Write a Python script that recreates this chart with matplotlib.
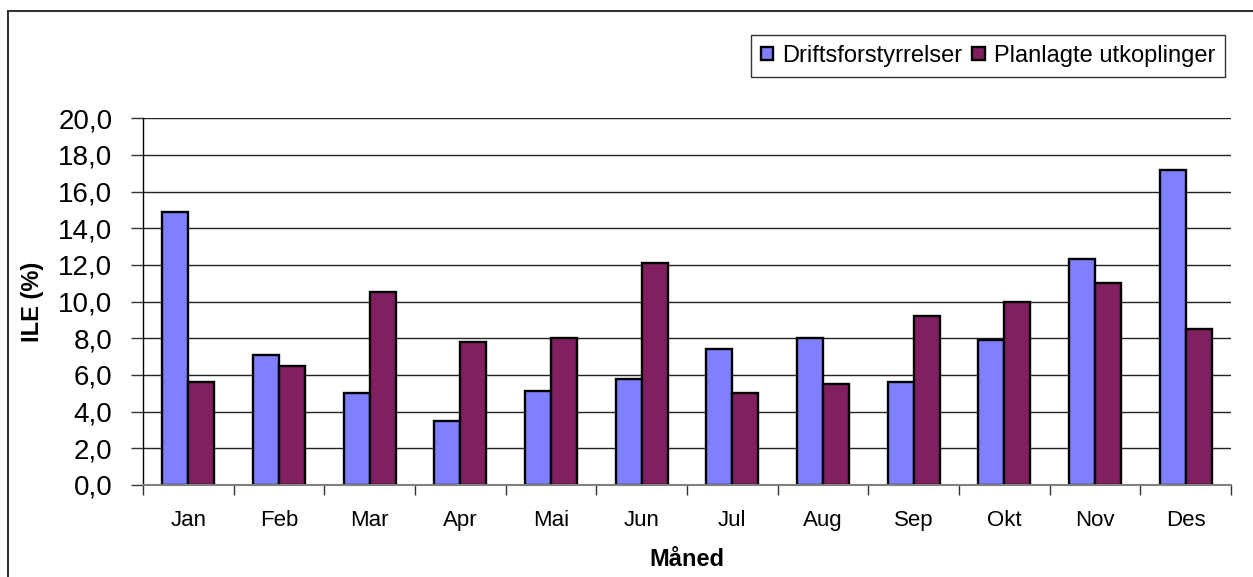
import matplotlib
matplotlib.use("Agg")
import matplotlib.pyplot as plt
import numpy as np
from matplotlib.patches import Rectangle
from matplotlib.ticker import FixedLocator, FuncFormatter

plt.rcParams['font.family'] = ['Liberation Sans', 'DejaVu Sans']

months = ["Jan", "Feb", "Mar", "Apr", "Mai", "Jun", "Jul", "Aug", "Sep", "Okt", "Nov", "Des"]
drift = [14.9, 7.1, 5.0, 3.5, 5.1, 5.8, 7.4, 8.0, 5.6, 7.9, 12.3, 17.2]
planlagt = [5.6, 6.5, 10.5, 7.8, 8.0, 12.1, 5.0, 5.5, 9.2, 10.0, 11.0, 8.5]
series_names = ["Driftsforstyrrelser", "Planlagte utkoplinger"]
y_ticks = [0, 2, 4, 6, 8, 10, 12, 14, 16, 18, 20]

W, H = 1253, 577
fig = plt.figure(figsize=(W / 100, H / 100), dpi=100)
ax = fig.add_axes([143 / W, 1 - 485 / H, (1231 - 143) / W, (485 - 118.3) / H])

x = np.arange(len(months))
bw = 0.285
ax.bar(x - bw / 2, drift, bw, color="#8080FF", edgecolor="black", linewidth=1.7, label=series_names[0], zorder=3)
ax.bar(x + bw / 2, planlagt, bw, color="#802060", edgecolor="black", linewidth=1.7, label=series_names[1], zorder=3)

ax.set_xlim(-0.5, len(months) - 0.5)
ax.set_ylim(0, 20)
ax.set_yticks(y_ticks)
ax.yaxis.set_major_formatter(FuncFormatter(lambda v, p: f"{v:.1f}".replace(".", ",")))
ax.grid(axis="y", color="#222222", linewidth=1.0, zorder=0)

ax.set_xticks(x)
ax.set_xticklabels(months)
ax.xaxis.set_minor_locator(FixedLocator(np.arange(-0.5, len(months), 1.0)))
ax.tick_params(axis="x", which="major", length=0, pad=18, labelsize=16)
ax.tick_params(axis="x", which="minor", length=7, width=1, color="#333333", direction="out")
ax.tick_params(axis="y", length=9, width=1, color="#333333", pad=13, labelsize=20)

for s in ["top", "right"]:
    ax.spines[s].set_visible(False)
ax.spines["left"].set_color("black")
ax.spines["left"].set_linewidth(1.0)
ax.spines["bottom"].set_color("#808080")
ax.spines["bottom"].set_linewidth(1.5)
ax.spines["bottom"].set_zorder(4)

ax.set_ylabel("ILE (%)", fontsize=17, fontweight="bold", va="center")
ax.yaxis.set_label_coords(-(143 - 33) / (1231 - 143), 0.5)
ax.set_xlabel("Måned", fontsize=17, fontweight="bold", va="center")
ax.xaxis.set_label_coords(0.5, -(559 - 485) / (485 - 118.3))

leg = ax.legend(loc="upper right", bbox_to_anchor=(1225 / W, 1 - 35 / H), bbox_transform=fig.transFigure,
                ncol=2, fontsize=17, frameon=True, fancybox=False, edgecolor="black",
                handlelength=0.52, handleheight=0.52, handletextpad=0.38, columnspacing=0.42,
                borderpad=0.42, borderaxespad=0)
leg.get_frame().set_linewidth(1.0)

fig.add_artist(Rectangle((8 / W, -0.1), 1.2, 1.1 - 11 / H, transform=fig.transFigure,
                         fill=False, edgecolor="#333333", linewidth=1.5))

fig.savefig("out.png", dpi=100)
